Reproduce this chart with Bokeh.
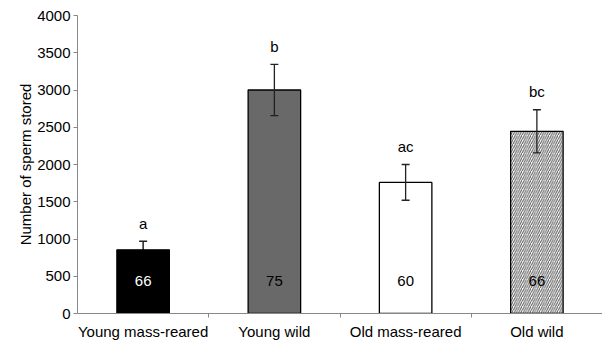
from bokeh.plotting import figure
from bokeh.models import ColumnDataSource, FixedTicker, Whisker, Range1d
from bokeh.core.properties import value, field
from bokeh.embed import file_html
from bokeh.resources import INLINE

categories = ["Young mass-reared", "Young wild", "Old mass-reared", "Old wild"]
means = [855, 3000, 1760, 2445]
se = [115, 345, 240, 290]
letters = ["a", "b", "ac", "bc"]
n_sizes = ["66", "75", "60", "66"]

fills = ["black", "#696969", "white", "white"]
hatches = [" ", " ", " ", "/"]
n_colors = ["white", "black", "black", "black"]
whisker_colors = ["black", "#222222", "#222222", "#222222"]

FONT = "Liberation Sans"

x = [i + 0.5 for i in range(len(categories))]
src = ColumnDataSource(dict(
    x=x, top=means, upper=[m + s for m, s in zip(means, se)],
    lower=[m - s for m, s in zip(means, se)], fill=fills, hatch=hatches,
    letter=letters, n=n_sizes, ncol=n_colors, ny=[440] * len(x),
    wcol=whisker_colors,
))

p = figure(width=602, height=342, output_backend="svg", toolbar_location=None,
           x_range=Range1d(0, 4), y_range=Range1d(0, 4000),
           min_border_left=77, min_border_right=0, min_border_top=15, min_border_bottom=0)
p.outline_line_color = None
p.grid.grid_line_color = None
p.background_fill_color = "white"

p.vbar(x="x", top="top", width=0.4, bottom=0, source=src, fill_color="fill",
       line_color="black", line_width=1.3, hatch_pattern="hatch", hatch_color="#555555",
       hatch_scale=4.5, hatch_weight=1)

w = Whisker(source=src, base="x", upper="upper", lower="lower", line_color=field("wcol"),
            line_width=1.3, level="overlay")
w.upper_head.size = 8
w.lower_head.size = 8
w.upper_head.line_color = "#222222"
w.lower_head.line_color = field("wcol")
w.upper_head.line_width = 1.3
w.lower_head.line_width = 1.3
p.add_layout(w)

p.text(x="x", y="upper", text="letter", source=src, text_align="center",
       text_baseline="middle", y_offset=-18, text_font=value(FONT), text_font_size="15px",
       text_color="black")
p.text(x="x", y="ny", text="n", source=src, text_align="center",
       text_baseline="middle", text_font=value(FONT), text_font_size="15px",
       text_color="ncol")

# x axis
p.xaxis.ticker = FixedTicker(ticks=x, minor_ticks=[1, 2, 3, 4])
p.xaxis.major_label_overrides = {xi: c for xi, c in zip(x, categories)}
p.xaxis.major_tick_line_color = None
p.xaxis.minor_tick_line_color = "#888888"
p.xaxis.minor_tick_out = 4
p.xaxis.minor_tick_in = 0
p.xaxis.axis_line_color = "#888888"
p.xaxis.major_label_text_font = FONT
p.xaxis.major_label_text_font_size = "15px"
p.xaxis.major_label_text_color = "black"
p.xaxis.major_label_standoff = 3

# y axis
p.yaxis.ticker = FixedTicker(ticks=list(range(0, 4001, 500)), minor_ticks=[])
p.yaxis.axis_label = "Number of sperm stored"
p.yaxis.axis_label_text_font = FONT
p.yaxis.axis_label_text_font_size = "15px"
p.yaxis.axis_label_text_font_style = "normal"
p.yaxis.axis_label_text_color = "black"
p.yaxis.axis_label_standoff = 0
p.yaxis.major_label_text_font = FONT
p.yaxis.major_label_text_font_size = "15px"
p.yaxis.major_label_text_color = "black"
p.yaxis.major_label_standoff = 3
p.yaxis.major_tick_out = 4
p.yaxis.major_tick_in = 0
p.yaxis.major_tick_line_color = "#888888"
p.yaxis.axis_line_color = "#888888"

open("out.html", "w").write(file_html(p, INLINE))
